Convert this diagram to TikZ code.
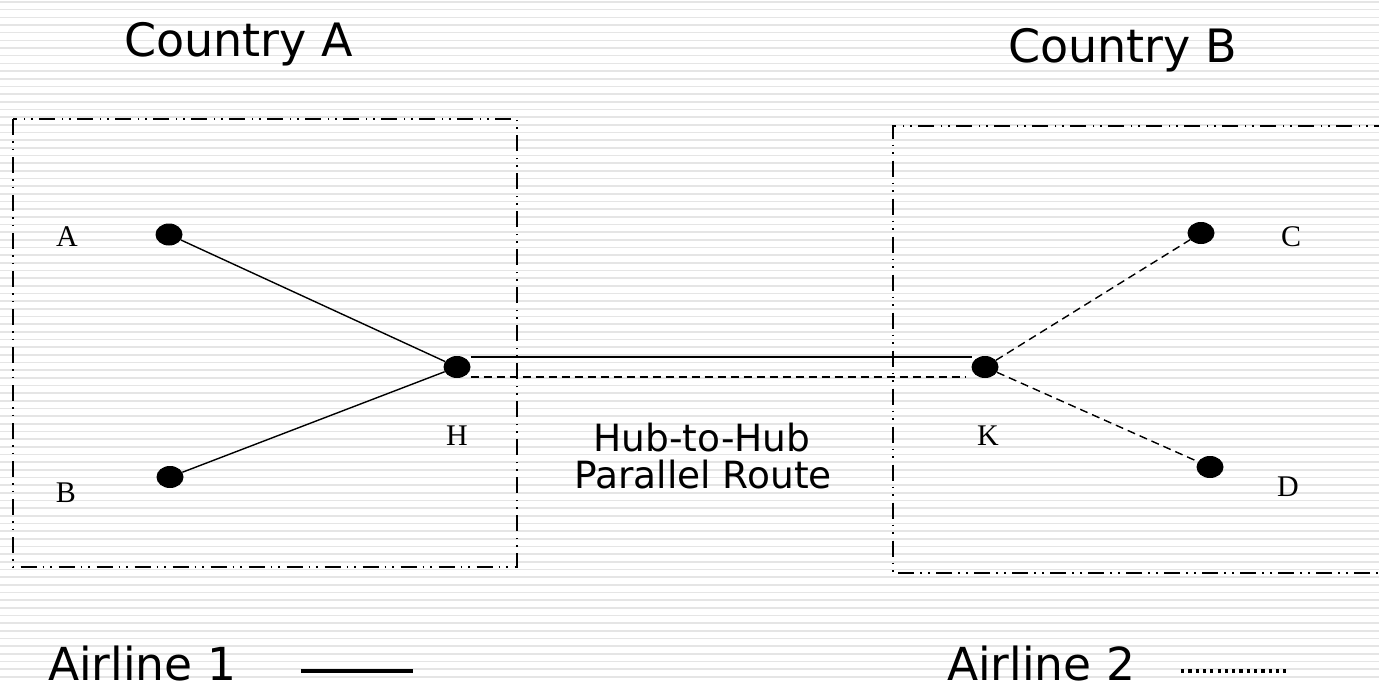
\documentclass[tikz,border=0pt]{standalone}
\usepackage{fontspec}
\setmainfont{Liberation Serif}
\newfontfamily\labelsans{DejaVu Sans}
\usetikzlibrary{shapes.geometric,calc}
\tikzset{
  stripe/.style={draw=black!10,line width=1.6pt},
  region/.style={draw=black,line width=1.8pt,dash pattern=on 16pt off 6pt on 1.6pt off 6pt on 1.6pt off 6.8pt},
  airport/.style={ellipse,fill=black,minimum width=27pt,minimum height=22pt,inner sep=0pt},
  route1/.style={draw=black,line width=1.4pt},
  route2/.style={draw=black,line width=1.4pt,dash pattern=on 8pt off 5pt},
  seriflabel/.style={font=\fontsize{30}{30}\selectfont,inner sep=0pt,anchor=base},
  bigsans/.style={font=\labelsans\fontsize{46}{46}\selectfont,inner sep=0pt,anchor=base west},
  midsans/.style={font=\labelsans\fontsize{37.5}{37.5}\selectfont,inner sep=0pt,anchor=base},
}
\begin{document}
\begin{tikzpicture}[x=1pt,y=-1pt]
\useasboundingbox (0,0) rectangle (1379,683);
\fill[white] (0,0) rectangle (1379,683);
\foreach \i in {0,...,89} {\draw[stripe] (0,{\i*7.67+2}) -- (1379,{\i*7.67+2});}
% regions
\draw[region] (12.7,119) rectangle (516.7,567);
\draw[region] (1390,126) -- (892.7,126) -- (892.7,573) -- (1390,573);
% titles
\node[bigsans] (ca) at (124,56) {Country A};
\node[bigsans] (cb) at (1008,62) {Country B};
% airports
\node[airport] (A) at (169,234.5) {};
\node[airport] (B) at (170,477) {};
\node[airport] (H) at (457,367) {};
\node[airport] (K) at (985,367) {};
\node[airport] (C) at (1201,233) {};
\node[airport] (D) at (1210,467) {};
% labels
\node[seriflabel] (lA) at (67,246) {A};
\node[seriflabel] (lB) at (66,502) {B};
\node[seriflabel] (lH) at (457,445) {H};
\node[seriflabel] (lK) at (988,445) {K};
\node[seriflabel] (lC) at (1291,246) {C};
\node[seriflabel] (lD) at (1288,496) {D};
% routes
\draw[route1] (A) -- (H);
\draw[route1] (B) -- (H);
\draw[route2] (K) -- (C);
\draw[route2] (K) -- (D);
\draw[route1] ([yshift=10pt]H.east) -- ([yshift=10pt,xshift=1pt]K.west);
\draw[route2] ([yshift=-10pt]H.east) -- ([yshift=-10pt,xshift=-5pt]K.west);
% hub label
\node[midsans] (hub1) at (702,451) {Hub-to-Hub};
\node[midsans] (hub2) at (703,488) {Parallel Route};
% legend
\node[bigsans,font=\labelsans\fontsize{45.5}{45.5}\selectfont] (al1) at (48,680) {Airline 1};
\node[bigsans,font=\labelsans\fontsize{45.5}{45.5}\selectfont] (al2) at (947,680) {Airline 2};
\coordinate (l1a) at (301,671);
\coordinate (l1b) at (413,671);
\coordinate (l2a) at (1181,671);
\coordinate (l2b) at (1290,671);
\draw[black,line width=3.4pt] (l1a) -- (l1b);
\draw[black,line width=3.2pt,dash pattern=on 3.2pt off 4.1pt] (l2a) -- (l2b);
\end{tikzpicture}
\end{document}
